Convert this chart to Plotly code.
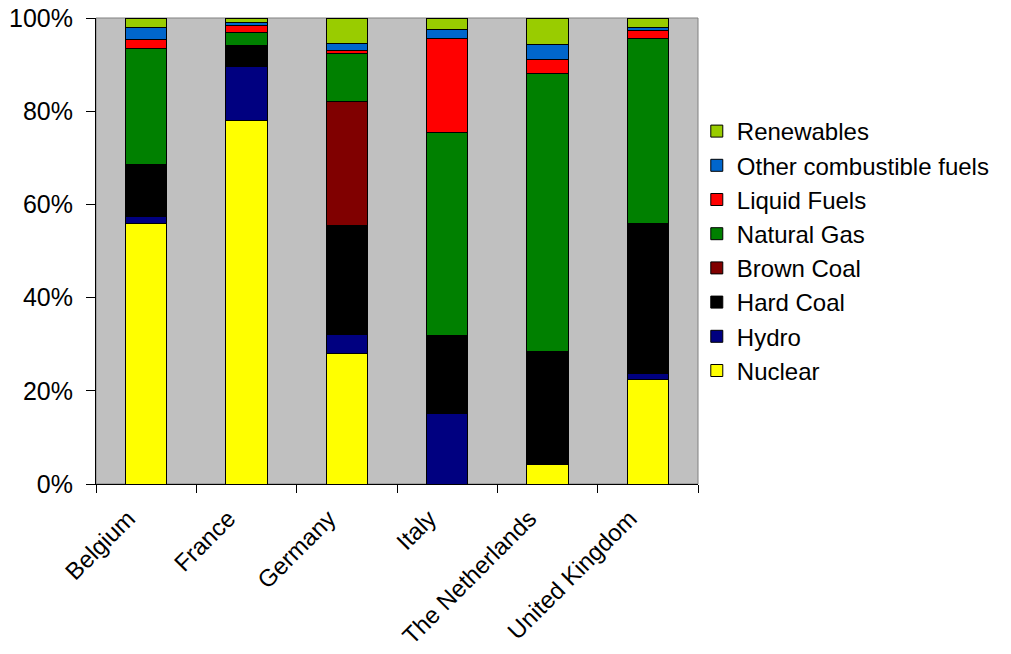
import plotly.graph_objects as go

countries = ["Belgium", "France", "Germany", "Italy", "The Netherlands", "United Kingdom"]

nuclear     = [55.9, 78.1, 28.0, 0.0, 4.1, 22.5]
hydro       = [1.5, 11.4, 4.0, 15.2, 0.0, 1.3]
hard_coal   = [11.1, 4.6, 23.4, 16.6, 24.3, 32.1]
brown_coal  = [0.0, 0.0, 26.6, 0.0, 0.0, 0.0]
natural_gas = [25.0, 2.8, 10.4, 43.6, 59.7, 39.7]
liquid      = [1.9, 1.4, 0.7, 20.2, 3.0, 1.7]
other_comb  = [2.6, 0.7, 1.5, 2.0, 3.3, 0.7]
renewables  = [2.0, 1.0, 5.4, 2.4, 5.6, 2.0]

series = [
    ("Nuclear", nuclear, "#FFFF00"),
    ("Hydro", hydro, "#000080"),
    ("Hard Coal", hard_coal, "#000000"),
    ("Brown Coal", brown_coal, "#800000"),
    ("Natural Gas", natural_gas, "#008000"),
    ("Liquid Fuels", liquid, "#FF0000"),
    ("Other combustible fuels", other_comb, "#0066CC"),
    ("Renewables", renewables, "#99CC00"),
]

fig = go.Figure()
n = len(series)
for i, (name, vals, col) in enumerate(series):
    fig.add_trace(go.Bar(
        x=countries, y=vals, name=name, legendgroup=name,
        legendrank=n - i,
        marker=dict(color=col, line=dict(color="#000000", width=1)),
    ))

font = "Liberation Sans, Arial, sans-serif"
fig.update_layout(
    barmode="stack",
    barnorm="percent",
    bargap=0.59,
    width=1011, height=654,
    margin=dict(l=96, r=313, t=18, b=170, autoexpand=False),
    paper_bgcolor="white",
    plot_bgcolor="#C0C0C0",
    font=dict(family=font, size=24, color="black"),
    legend=dict(
        x=0.998, xanchor="left", y=0.5, yanchor="middle",
        traceorder="grouped", tracegroupgap=0,
        font=dict(family=font, size=24, color="black"),
        bgcolor="rgba(0,0,0,0)", itemwidth=30,
    ),
    xaxis=dict(
        tickangle=-45, showline=True, linecolor="black", linewidth=1,
        ticks="outside", ticklen=8, tickcolor="black", tickson="boundaries",
        tickfont=dict(size=24), mirror=False, automargin=False,
        ticklabelstandoff=10, ticklabelshift=-18,
    ),
    yaxis=dict(
        range=[0, 100], tickvals=[0, 20, 40, 60, 80, 100],
        ticktext=["0%", "20%", "40%", "60%", "80%", "100%"],
        showline=True, linecolor="black", linewidth=1,
        ticks="outside", ticklen=9, tickcolor="black",
        showgrid=False, zeroline=False, tickfont=dict(size=25), automargin=False,
        ticklabelstandoff=8,
    ),
    shapes=[dict(type="rect", xref="paper", yref="paper", x0=0, x1=1, y0=0, y1=1,
                 line=dict(color="#808080", width=1), layer="below")],
)

fig.write_html(
    "out.html",
    config={"displayModeBar": False},
    post_script="document.body.style.margin='0';document.body.style.overflow='hidden';",
)
